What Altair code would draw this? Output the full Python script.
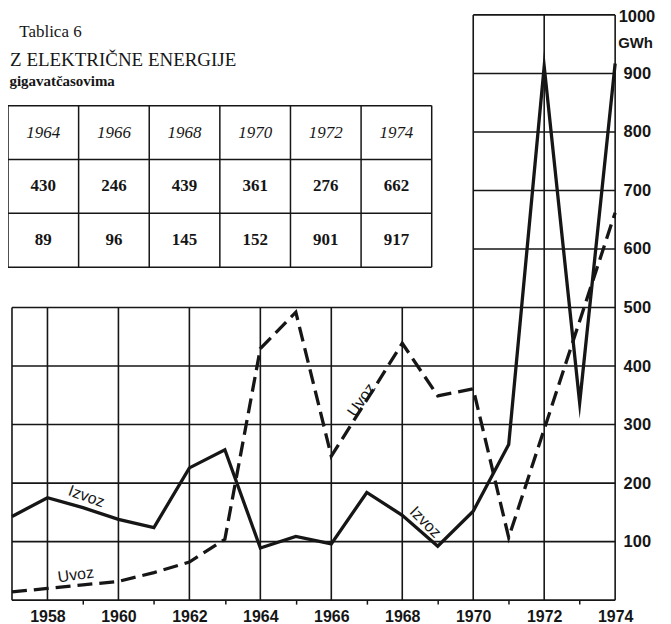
import altair as alt
import pandas as pd

# ---- data ----
years = list(range(1957, 1975))
izvoz = [143, 175, 158, 138, 124, 226, 257, 89, 109, 96, 184, 145, 92, 152, 266, 912, 337, 917]
uvoz = [14, 20, 26, 32, 47, 65, 104, 430, 492, 246, 342, 439, 349, 361, 107, 292, 477, 662]

table_years = ["1964", "1966", "1968", "1970", "1972", "1974"]
table_uvoz = [430, 246, 439, 361, 276, 662]
table_izvoz = [89, 96, 145, 152, 901, 917]

x_label_years = list(range(1958, 1975))
y_ticks = [100, 200, 300, 400, 500, 600, 700, 800, 900, 1000]
grid_low_values = [0, 100, 200, 300, 400, 500]
grid_high_values = [600, 700, 800, 900, 1000]
grid_low_years = [1957, 1958, 1960, 1962, 1964, 1966, 1968]
grid_full_years = [1970, 1972, 1974]

title_lines = ["Tablica 6", "Z ELEKTRIČNE ENERGIJE", "gigavatčasovima"]
line_labels = ["Izvoz", "Uvoz", "Uvoz", "Izvoz"]

# ---- layout (annotation placement) ----
label_pos = [(1959.1, 177, 20), (1958.8, 43, 352), (1966.85, 342, 305), (1968.65, 133, 45)]
title_pos = [(0.16, -1.37, 17, "normal"), (0.03, -0.84, 19, "normal"), (0.02, -0.46, 15, "bold")]

INK = "#161616"
SANS = "Liberation Sans"
SERIF = "Liberation Serif"

xs = alt.Scale(domain=[1957, 1974], nice=False, zero=False)
ys = alt.Scale(domain=[0, 1000], nice=False, zero=False)

xaxis = alt.Axis(
    values=x_label_years, format="d",
    labelExpr="datum.value % 2 == 0 ? datum.label : ''",
    tickSize=4, tickWidth=1.5,
    tickColor={"condition": {"test": "datum.value % 2 == 1", "value": INK}, "value": "transparent"},
    domain=False, grid=False, labelOverlap=False, labelFlush=False,
    labelFont=SANS, labelFontSize=16, labelFontWeight="bold", labelColor=INK,
    labelPadding=4, title=None,
)
yaxis = alt.Axis(
    orient="right", values=y_ticks, format="d", domain=False, ticks=False, grid=False,
    labelAlign="left",
    labelPadding={"condition": {"test": "datum.value == 1000", "value": 3}, "value": 8},
    labelOffset={"condition": {"test": "datum.value == 1000", "value": 2}, "value": 0},
    labelOverlap=False, labelFlush=False,
    labelFont=SANS, labelFontSize=16.5, labelFontWeight="bold", labelColor=INK,
    title=None,
)

def X(f):
    return alt.X(f, scale=xs, axis=xaxis)

def Y(f):
    return alt.Y(f, scale=ys, axis=yaxis)

hdf = pd.DataFrame(
    [{"v": v, "x1": 1957, "x2": 1974} for v in grid_low_values]
    + [{"v": v, "x1": 1970, "x2": 1974} for v in grid_high_values]
)
vdf = pd.DataFrame(
    [{"yr": y, "y1": 0, "y2": 500} for y in grid_low_years]
    + [{"yr": y, "y1": 0, "y2": 1000} for y in grid_full_years]
)

hgrid = alt.Chart(hdf).mark_rule(color=INK, strokeWidth=1.6).encode(
    x=X("x1:Q"), x2="x2:Q", y=Y("v:Q"))
vgrid = alt.Chart(vdf).mark_rule(color=INK, strokeWidth=1.6).encode(
    x=X("yr:Q"), y=Y("y1:Q"), y2="y2:Q")

ldf = pd.DataFrame({"year": years, "izvoz": izvoz, "uvoz": uvoz})
uvoz_line = alt.Chart(ldf).mark_line(
    color=INK, strokeWidth=3.3, strokeDash=[15, 7], strokeMiterLimit=12
).encode(x=X("year:Q"), y=Y("uvoz:Q"))
izvoz_line = alt.Chart(ldf).mark_line(
    color=INK, strokeWidth=3.3, strokeMiterLimit=12
).encode(x=X("year:Q"), y=Y("izvoz:Q"))

label_layers = []
for txt, (lx, ly, ang) in zip(line_labels, label_pos):
    d = pd.DataFrame({"x": [lx], "y": [ly], "t": [txt]})
    label_layers.append(
        alt.Chart(d).mark_text(font=SANS, fontSize=16, angle=ang, color=INK,
                               align="center", baseline="middle").encode(
            x=X("x:Q"), y=Y("y:Q"), text="t:N")
    )

gwh = alt.Chart(pd.DataFrame({"x": [1974], "y": [952], "t": ["GWh"]})).mark_text(
    font=SANS, fontSize=15, fontWeight="bold", color=INK, align="left",
    baseline="middle", dx=3).encode(x=X("x:Q"), y=Y("y:Q"), text="t:N")

main = alt.layer(hgrid, vgrid, uvoz_line, izvoz_line, *label_layers, gwh)

# ---- table inset ----
tx = alt.Scale(domain=[0, 6], range=[-4, 421])
ty = alt.Scale(domain=[0, 3], range=[91, 253])

def TX(f):
    return alt.X(f, scale=tx, axis=None)

def TY(f):
    return alt.Y(f, scale=ty, axis=None)

t_h = pd.DataFrame({"r": [0, 1, 2, 3], "c1": [-0.2] * 4, "c2": [6] * 4})
t_v = pd.DataFrame({"c": list(range(7)), "r1": [0] * 7, "r2": [3] * 7})
t_hr = alt.Chart(t_h).mark_rule(color=INK, strokeWidth=1.5).encode(
    x=TX("c1:Q"), x2="c2:Q", y=TY("r:Q"))
t_vr = alt.Chart(t_v).mark_rule(color=INK, strokeWidth=1.5).encode(
    x=TX("c:Q"), y=TY("r1:Q"), y2="r2:Q")

cells = pd.DataFrame(
    [{"c": i + 0.5, "r": 0.5, "t": t} for i, t in enumerate(table_years)]
)
vals = pd.DataFrame(
    [{"c": i + 0.5, "r": 1.5, "t": str(v)} for i, v in enumerate(table_uvoz)]
    + [{"c": i + 0.5, "r": 2.5, "t": str(v)} for i, v in enumerate(table_izvoz)]
)
t_head = alt.Chart(cells).mark_text(font=SERIF, fontSize=17, fontStyle="italic",
                                    color=INK, baseline="middle").encode(
    x=TX("c:Q"), y=TY("r:Q"), text="t:N")
t_vals = alt.Chart(vals).mark_text(font=SERIF, fontSize=17, fontWeight="bold",
                                   color=INK, baseline="middle").encode(
    x=TX("c:Q"), y=TY("r:Q"), text="t:N")

title_layers = []
for txt, (c, r, fs, fw) in zip(title_lines, title_pos):
    d = pd.DataFrame({"c": [c], "r": [r], "t": [txt]})
    title_layers.append(
        alt.Chart(d).mark_text(font=SERIF, fontSize=fs, fontWeight=fw, color=INK,
                               align="left", baseline="middle").encode(
            x=TX("c:Q"), y=TY("r:Q"), text="t:N")
    )

table = alt.layer(t_hr, t_vr, t_head, t_vals, *title_layers)

chart = (
    alt.layer(main, table)
    .resolve_scale(x="independent", y="independent")
    .properties(
        width=605, height=587,
        autosize=alt.AutoSizeParams(type="none"),
        padding={"left": 4, "top": 6, "right": 48, "bottom": 23},
        background="white",
    )
    .configure_view(stroke=None)
)

chart.save("out.html", embed_options={"renderer": "svg", "actions": False})
